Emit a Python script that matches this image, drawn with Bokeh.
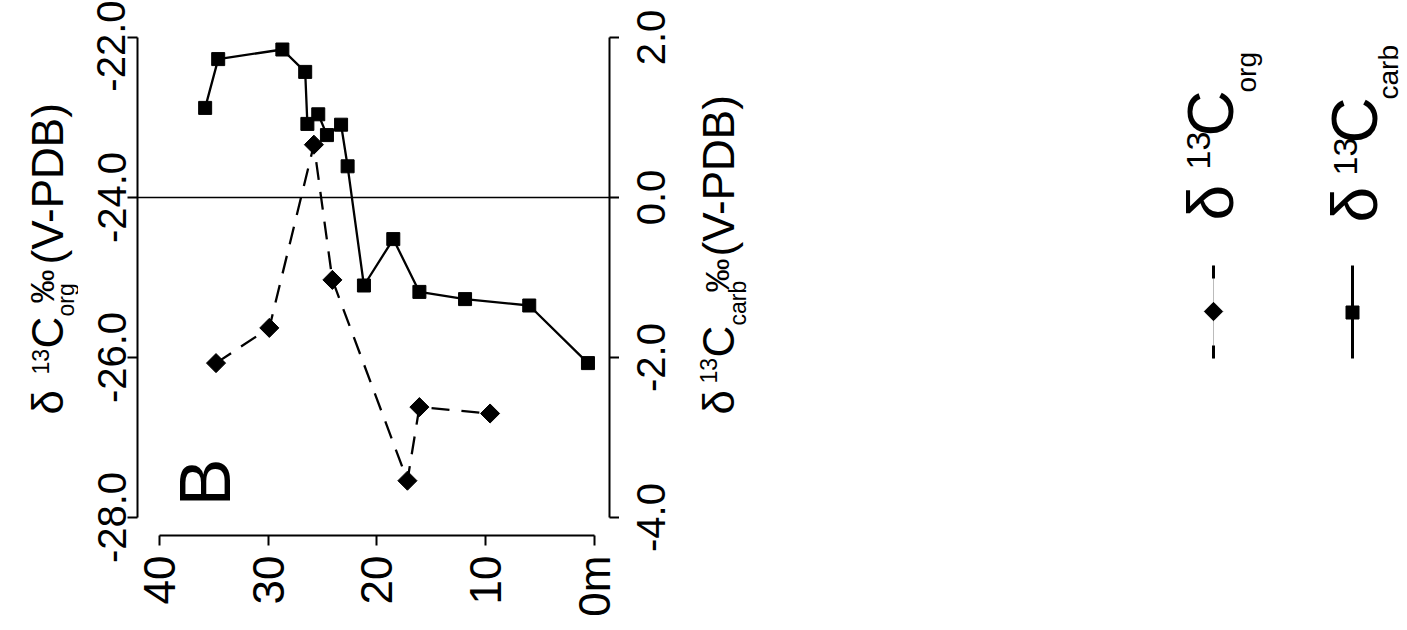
import math
from bokeh.plotting import figure
from bokeh.models import (Range1d, LinearAxis, FixedTicker, PrintfTickFormatter,
                          Span, Label)
from bokeh.layouts import row
from bokeh.embed import file_html
from bokeh.resources import INLINE

# ---------------- data ----------------
depth_carb = [35.8, 34.6, 28.7, 26.6, 26.4, 25.4, 24.6, 23.3, 22.7, 21.2, 18.5, 16.1, 11.9, 6.0, 0.6]
d13c_carb = [1.12, 1.73, 1.85, 1.57, 0.92, 1.04, 0.78, 0.91, 0.39, -1.10, -0.52, -1.18, -1.27, -1.35, -2.07]
depth_org = [34.8, 29.9, 25.8, 24.1, 17.2, 16.1, 9.6]
d13c_org = [-26.07, -25.63, -23.34, -25.03, -27.54, -26.62, -26.70]
depth_ticks = [0, 10, 20, 30, 40]
depth_labels = {0: "0m"}
org_ticks = [-28, -26, -24, -22]
carb_ticks = [-4, -2, 0, 2]

FONT = "Liberation Sans"
INK = "black"
H = 630
TOP, BOTTOM = 30, 95          # borders shared by all panels (frames are row-aligned)

# page-pixel -> data helpers, used only to place annotation text / legend samples
def dx(px):
    return (594 - px) / 10.875

def dy(py):
    return -22 - (py - 37) / 80.0

def cy(py):
    return 2 - (py - 37) / 80.0

def ident(px):
    return px


def common(fig):
    fig.outline_line_color = None
    fig.grid.visible = False
    fig.background_fill_color = "white"
    fig.border_fill_color = "white"


def lab(fig, text, x, y, size, xmap, ymap):
    # x: page x of the text baseline; y: page y where the (upward-reading) text starts
    fig.add_layout(Label(x=xmap(x - 0.35 * size), y=ymap(y), text=text, angle=math.pi / 2,
                         text_font=FONT, text_font_size=f"{size}px", text_align="left",
                         text_baseline="middle", text_color=INK))


# ---------------- main panel ----------------
org_range = Range1d(-28.225, -21.9125)
carb_range = Range1d(-4.225, 2.0875)

p = figure(width=541, height=H, x_range=Range1d(42.02, -1.38), y_range=org_range,
           output_backend="svg", toolbar_location=None,
           min_border_left=59, min_border_right=10, min_border_top=TOP, min_border_bottom=BOTTOM,
           x_axis_location=None, y_axis_location=None)
p.extra_y_ranges = {"carb": carb_range}
common(p)


def style(ax, standoff, orient, size="40px"):
    ax.axis_line_width = 2
    ax.axis_line_color = INK
    ax.major_tick_line_width = 2
    ax.major_tick_line_color = INK
    ax.major_tick_out = 10
    ax.major_tick_in = 0
    ax.minor_tick_line_color = None
    ax.major_label_text_font = FONT
    ax.major_label_text_font_size = size
    ax.major_label_text_color = INK
    ax.major_label_orientation = orient
    ax.major_label_standoff = standoff


yl = LinearAxis(ticker=FixedTicker(ticks=org_ticks),
                formatter=PrintfTickFormatter(format="%.1f"), bounds=(-28, -22))
style(yl, 2, "vertical")
p.add_layout(yl, "left")

yr = LinearAxis(y_range_name="carb", ticker=FixedTicker(ticks=carb_ticks), bounds=(-4, 2),
                major_label_overrides={t: "" for t in carb_ticks})
style(yr, 0, "vertical")
yr.major_label_text_font_size = "0px"
p.add_layout(yr, "right")

xb = LinearAxis(ticker=FixedTicker(ticks=depth_ticks), bounds=(0, 40),
                major_label_overrides=depth_labels)
style(xb, 10, math.pi / 2, "44px")
p.add_layout(xb, "below")

p.add_layout(Span(location=-24, dimension="width", line_color=INK, line_width=1.5))

p.line(depth_org, d13c_org, line_color=INK, line_width=2.3, line_dash="18 12")
p.scatter(depth_org, d13c_org, marker="square", angle=math.pi / 4, size=13.5,
          fill_color=INK, line_color=INK)
p.line(depth_carb, d13c_carb, y_range_name="carb", line_color=INK, line_width=2.3)
p.scatter(depth_carb, d13c_carb, y_range_name="carb", marker="square", size=13,
          fill_color=INK, line_color=INK)

lab(p, "B", 230, 506, 72, dx, dy)

# ---------------- left title panel ----------------
A = figure(width=78, height=H, x_range=Range1d(0, 78), y_range=org_range,
           output_backend="svg", toolbar_location=None,
           min_border_left=0, min_border_right=0, min_border_top=TOP, min_border_bottom=BOTTOM,
           x_axis_location=None, y_axis_location=None)
common(A)
for t, bx, sy, sz in [("δ", 62, 414, 44), ("13", 48, 374, 23), ("C", 62, 348, 44),
                      ("org", 74, 316, 23), ("‰", 53, 303, 34), ("(V-PDB)", 62, 264, 44)]:
    lab(A, t, bx, sy, sz, ident, dy)

# ---------------- right panel: carb tick labels, title, legend ----------------
R_LEFT = 657
R = figure(width=1407 - 619, height=H, x_range=Range1d(R_LEFT, 1407), y_range=carb_range,
           output_backend="svg", toolbar_location=None,
           min_border_left=R_LEFT - 619, min_border_right=0, min_border_top=TOP,
           min_border_bottom=BOTTOM, x_axis_location=None, y_axis_location=None)
common(R)
rl = LinearAxis(ticker=FixedTicker(ticks=carb_ticks), formatter=PrintfTickFormatter(format="%.1f"))
style(rl, -7, "vertical")
rl.axis_line_color = None
rl.major_tick_line_color = None
rl.major_tick_out = 0
R.add_layout(rl, "left")

for t, bx, sy, sz in [("δ", 733, 414, 44), ("13", 716, 383, 23), ("C", 733, 357, 44),
                      ("carb", 746, 325, 23), ("‰", 728, 292, 34), ("(V-PDB)", 733, 256, 44)]:
    lab(R, t, bx, sy, sz, ident, cy)

# legend samples
R.line([1213, 1213], [cy(265), cy(358)], line_color="#bbbbbb", line_width=1)
R.line([1213, 1213], [cy(265), cy(358)], line_color=INK, line_width=3, line_dash="13 67")
R.scatter([1213], [cy(311)], marker="square", angle=math.pi / 4, size=13,
          fill_color=INK, line_color=INK)
R.line([1352, 1352], [cy(265), cy(358)], line_color=INK, line_width=3)
R.scatter([1352], [cy(312)], marker="square", size=13, fill_color=INK, line_color=INK)

for t, bx, sy, sz in [("δ", 1233, 220, 64), ("13", 1210, 169, 34), ("C", 1233, 136, 64),
                      ("org", 1256, 92, 28)]:
    lab(R, t, bx, sy, sz, ident, cy)
for t, bx, sy, sz in [("δ", 1377, 222, 64), ("13", 1357, 175, 34), ("C", 1377, 143, 64),
                      ("carb", 1398, 99, 28)]:
    lab(R, t, bx, sy, sz, ident, cy)

layout = row(A, p, R)
open("out.html", "w").write(file_html(layout, INLINE))
